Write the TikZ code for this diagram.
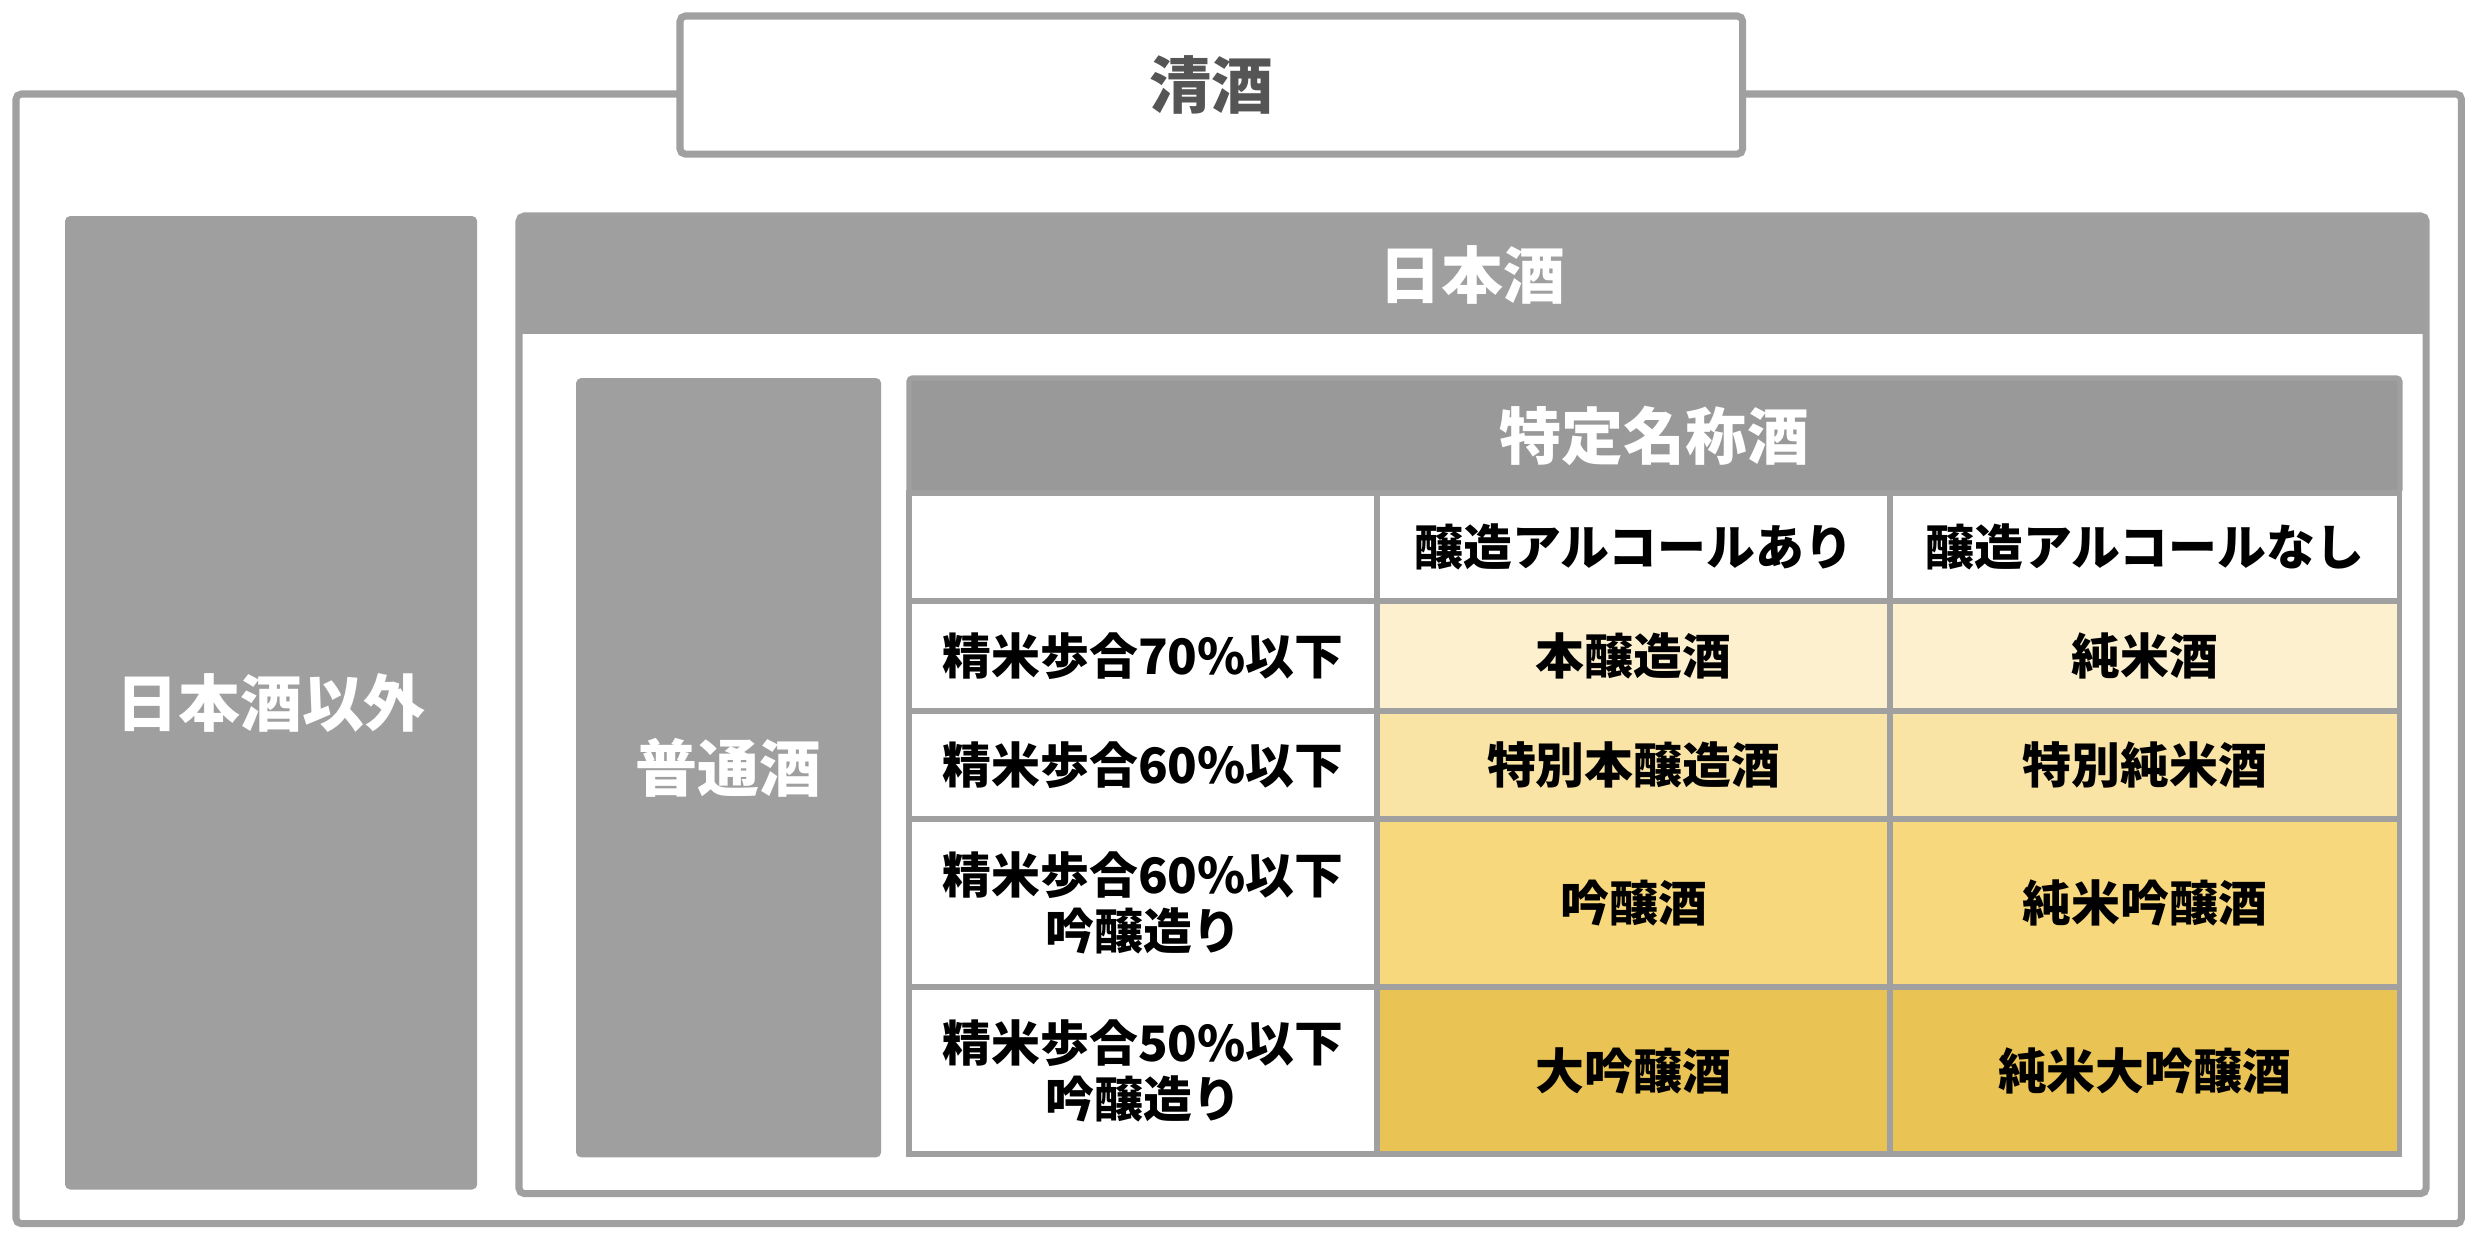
\documentclass[tikz,border=0pt]{standalone}
\usepackage{fontspec}
\setmainfont{Noto Sans CJK JP}
\definecolor{boxgray}{HTML}{9F9F9F}
\definecolor{bandgray}{HTML}{999999}
\definecolor{linegray}{HTML}{A0A0A0}
\definecolor{titlegray}{HTML}{555555}
\definecolor{rowA}{HTML}{FCF0CF}
\definecolor{rowB}{HTML}{F9E3A5}
\definecolor{rowC}{HTML}{F8D87C}
\definecolor{rowD}{HTML}{EAC355}
\begin{document}
\begin{tikzpicture}[x=0.01cm,y=-0.01cm,
  bigtext/.style={font=\fontsize{17.6}{21}\selectfont\bfseries},
  celltext/.style={font=\fontsize{13.9}{15.9}\selectfont\bfseries, align=center, text=black},
  framebox/.style={draw=linegray, line width=2pt, rounded corners=1.5pt, fill=white, inner sep=0pt, outer sep=0pt, anchor=north west},
  graybox/.style={fill=boxgray, rounded corners=1.5pt, inner sep=0pt, outer sep=0pt, anchor=north west, text=white, bigtext},
  cellbox/.style={draw=linegray, line width=1.5pt, inner sep=0pt, outer sep=0pt, anchor=north west, celltext},
]
\useasboundingbox (0,0) rectangle (2482,1236);
\fill[white] (0,0) rectangle (2482,1236);

% outer frame (清酒)
\node[framebox, minimum width=24.44cm, minimum height=11.29cm] (outer) at (16,94) {};
\node[framebox, minimum width=10.62cm, minimum height=1.38cm, text=titlegray, bigtext] (seishu) at (680,16) {清酒};

% 日本酒以外
\node[graybox, minimum width=4.12cm, minimum height=9.73cm] (igai) at (65,216) {日本酒以外};

% 日本酒 frame
\node[framebox, minimum width=19.06cm, minimum height=9.77cm] (nihonshu) at (519,216) {};
\node[graybox, rounded corners=0pt, minimum width=19.06cm, minimum height=1.18cm] (nihonhead) at (519,216) {日本酒};

% 普通酒
\node[graybox, minimum width=3.05cm, minimum height=7.79cm] (futsu) at (576,378) {普通酒};

% 特定名称酒 header band
\node[graybox, fill=bandgray, draw=linegray, line width=1.5pt, rounded corners=1pt, minimum width=14.90cm, minimum height=1.15cm] (tokutei) at (909,378) {特定名称酒};

% table header row
\node[cellbox, fill=white, minimum width=4.68cm, minimum height=1.08cm] (h0) at (909,493) {};
\node[cellbox, fill=white, minimum width=5.13cm, minimum height=1.08cm] (h1) at (1377,493) {醸造アルコールあり};
\node[cellbox, fill=white, minimum width=5.09cm, minimum height=1.08cm] (h2) at (1890,493) {醸造アルコールなし};

% row 1
\node[cellbox, fill=white, minimum width=4.68cm, minimum height=1.10cm] (r1c0) at (909,601) {精米歩合70\%以下};
\node[cellbox, fill=rowA, minimum width=5.13cm, minimum height=1.10cm] (r1c1) at (1377,601) {本醸造酒};
\node[cellbox, fill=rowA, minimum width=5.09cm, minimum height=1.10cm] (r1c2) at (1890,601) {純米酒};

% row 2
\node[cellbox, fill=white, minimum width=4.68cm, minimum height=1.08cm] (r2c0) at (909,711) {精米歩合60\%以下};
\node[cellbox, fill=rowB, minimum width=5.13cm, minimum height=1.08cm] (r2c1) at (1377,711) {特別本醸造酒};
\node[cellbox, fill=rowB, minimum width=5.09cm, minimum height=1.08cm] (r2c2) at (1890,711) {特別純米酒};

% row 3
\node[cellbox, fill=white, minimum width=4.68cm, minimum height=1.68cm] (r3c0) at (909,819) {精米歩合60\%以下\\吟醸造り};
\node[cellbox, fill=rowC, minimum width=5.13cm, minimum height=1.68cm] (r3c1) at (1377,819) {吟醸酒};
\node[cellbox, fill=rowC, minimum width=5.09cm, minimum height=1.68cm] (r3c2) at (1890,819) {純米吟醸酒};

% row 4
\node[cellbox, fill=white, minimum width=4.68cm, minimum height=1.67cm] (r4c0) at (909,987) {精米歩合50\%以下\\吟醸造り};
\node[cellbox, fill=rowD, minimum width=5.13cm, minimum height=1.67cm] (r4c1) at (1377,987) {大吟醸酒};
\node[cellbox, fill=rowD, minimum width=5.09cm, minimum height=1.67cm] (r4c2) at (1890,987) {純米大吟醸酒};
\end{tikzpicture}
\end{document}
